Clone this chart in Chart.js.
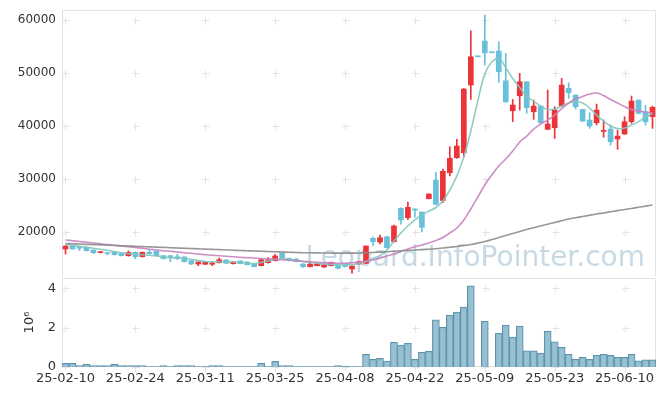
<!DOCTYPE html>
<html>
<head>
<meta charset="utf-8">
<script src="https://cdn.jsdelivr.net/npm/chart.js@4.4.1/dist/chart.umd.min.js"></script>
<style>
  body { margin: 0; background: #fff; }
  #wrap { position: relative; width: 665px; height: 396px; }
  #price { position: absolute; left: 0; top: 0; }
  #vol { position: absolute; left: 0; top: 278px; }
</style>
</head>
<body>
<div id="wrap">
  <canvas id="price" width="665" height="278"></canvas>
  <canvas id="vol" width="665" height="118"></canvas>
</div>
<script>
// trading days (YY-MM-DD)
const dates = [
  '25-02-10','25-02-11','25-02-12','25-02-13','25-02-14','25-02-17','25-02-18','25-02-19','25-02-20','25-02-21',
  '25-02-24','25-02-25','25-02-26','25-02-27','25-02-28','25-03-04','25-03-05','25-03-06','25-03-07','25-03-10',
  '25-03-11','25-03-12','25-03-13','25-03-14','25-03-17','25-03-18','25-03-19','25-03-20','25-03-21','25-03-24',
  '25-03-25','25-03-26','25-03-27','25-03-28','25-03-31','25-04-01','25-04-02','25-04-03','25-04-04','25-04-07',
  '25-04-08','25-04-09','25-04-10','25-04-11','25-04-14','25-04-15','25-04-16','25-04-17','25-04-18','25-04-21',
  '25-04-22','25-04-23','25-04-24','25-04-25','25-04-28','25-04-29','25-04-30','25-05-02','25-05-07','25-05-08',
  '25-05-09','25-05-12','25-05-13','25-05-14','25-05-15','25-05-16','25-05-19','25-05-20','25-05-21','25-05-22',
  '25-05-23','25-05-26','25-05-27','25-05-28','25-05-29','25-05-30','25-06-02','25-06-04','25-06-05','25-06-09',
  '25-06-10','25-06-11','25-06-12','25-06-13','25-06-16'
];

const opens = [
  16850,17480,17230,17180,16670,16160,16050,16230,16050,15590,
  16230,15400,16230,16420,15590,15590,15400,15350,14650,14030,
  13980,13980,14280,14790,14090,14600,14410,14030,13710,14280,
  14650,16100,15100,14970,14030,13520,13710,13460,13710,13840,
  13800,13090,14030,14160,18870,18170,19170,18230,24520,22750,
  24390,23820,26330,29850,26000,31220,34050,34990,47740,53070,
  56020,53820,54140,48550,42900,45720,48360,42710,43780,39400,
  39700,43780,47120,45850,43160,41150,40640,39020,39450,37570,
  38510,40830,44910,42710,41770
];
const highs = [
  17500,17600,17300,17250,16700,16400,16150,16300,16100,16480,
  16300,16300,16610,16500,15650,15650,15860,15400,14700,14450,
  14400,14460,15160,14850,14450,14650,14450,14100,15100,15220,
  15860,16150,15150,15050,14100,14350,14100,13950,14400,13900,
  13900,13700,14500,17450,19170,19490,19250,21350,24600,25700,
  24450,23820,27250,31300,31900,36120,37510,47100,57960,53070,
  60920,53820,55890,53710,45040,49940,48400,44910,43850,46800,
  43650,49000,48170,45900,43200,42520,44160,41150,40200,39260,
  41770,45670,44950,43910,43780
];
const lows = [
  15900,16800,16540,16450,15970,16100,15750,15700,15550,15500,
  15030,15350,15900,15550,14950,14460,14850,14400,13900,13710,
  13900,13710,14200,14100,14000,14050,13850,13450,13650,14200,
  14600,15100,14600,14400,13400,13500,13650,13400,13650,13100,
  13450,12280,14000,14100,17480,17800,17000,18150,21510,22400,
  22830,20060,26300,25200,25600,30600,33900,34240,45040,53070,
  51500,53820,48250,44500,40830,43030,42410,41280,40550,39300,
  37700,43700,45230,43220,40900,39580,40210,37900,36440,35630,
  38450,40530,42350,40210,39580
];
const closes = [
  17420,16860,16990,16540,16160,16350,16000,15780,15590,16230,
  15400,16230,15970,15590,15030,15300,15030,14460,14030,14410,
  14350,14220,14840,14160,14410,14090,13900,13520,14840,14840,
  15540,15160,14650,14460,13520,13980,14030,13900,14350,13220,
  13550,13650,14460,17420,18230,18980,17100,21190,22320,24710,
  24200,20940,27210,25270,31500,33930,36250,46980,53070,53070,
  53820,53820,50240,44590,43970,48360,43460,43780,40640,40390,
  43030,47740,46290,43650,40960,40020,43030,39130,37060,38130,
  40830,44720,42410,40830,43540
];

// moving averages as drawn (short, mid, long)
const maShort = [
  17700,17550,17360,17180,16990,16800,16610,16390,16160,16010,
  15880,15780,15670,15540,15350,15220,15160,15100,14880,14690,
  14500,14460,14460,14460,14410,14350,14220,14130,14310,14600,
  14880,15030,14920,14690,14500,14310,14160,14030,13940,13940,
  13940,13900,14120,14500,15070,15630,16670,18360,19870,21190,
  22320,23260,24010,24670,25890,27970,30600,34180,39080,44720,
  49810,52070,52730,51030,48960,47270,45570,44720,43780,43120,
  43220,43780,44350,44630,44350,43410,42090,40960,40020,39550,
  39640,40210,40860,41710,42370
];
const maMid = [
  18550,18400,18270,18120,17990,17830,17700,17550,17420,17270,
  17140,16990,16820,16670,16540,16420,16290,16160,16050,15910,
  15780,15670,15570,15480,15390,15290,15220,15160,15060,14970,
  14920,14840,14750,14650,14540,14450,14350,14280,14220,14160,
  14180,14260,14370,14540,14780,15100,15540,15910,16380,16860,
  17270,17610,17990,18460,19020,19870,20810,22320,24390,26650,
  28910,30790,32490,33800,35310,37000,38130,39450,40390,41150,
  42090,43310,44350,45100,45570,46040,46230,45760,45010,44350,
  43690,43120,42840,42650,42460
];
const maLong = [
  17890,17840,17790,17730,17680,17630,17580,17520,17470,17420,
  17370,17310,17260,17210,17160,17100,17050,17000,16950,16890,
  16840,16790,16740,16680,16630,16580,16530,16480,16440,16380,
  16330,16290,16230,16200,16160,16140,16120,16100,16080,16080,
  16080,16080,16100,16140,16200,16270,16350,16420,16520,16590,
  16670,16740,16820,16910,17040,17180,17330,17500,17700,17970,
  18270,18630,19020,19400,19770,20150,20530,20870,21190,21530,
  21850,22180,22500,22750,22980,23220,23450,23650,23860,24090,
  24290,24500,24710,24930,25140
];

const volumes = [
  190000,190000,70000,140000,70000,70000,70000,140000,70000,70000,
  70000,70000,20000,20000,70000,20000,70000,70000,70000,20000,
  20000,70000,70000,20000,20000,20000,20000,20000,190000,20000,
  290000,70000,70000,20000,20000,20000,20000,20000,20000,70000,
  30000,20000,20000,650000,390000,440000,300000,1260000,1110000,1210000,
  390000,750000,800000,2400000,2020000,2640000,2790000,3050000,4130000,null,
  2330000,null,1720000,2130000,1520000,2080000,820000,820000,710000,1820000,
  1280000,1000000,650000,390000,490000,390000,590000,650000,590000,490000,
  490000,650000,310000,360000,360000
];

const priceTicks = [20000, 30000, 40000, 50000, 60000];
const volTicks = [0, 2000000, 4000000];

const UP = '#ec3338';
const DOWN = '#69c0da';
const FONT = 'DejaVu Sans';

const candleColors = closes.map((c, i) => c > opens[i] ? UP : DOWN);

// light "+" marks where grid lines would cross
const crosses = {
  id: 'crosses',
  beforeDatasetsDraw(chart) {
    const { ctx, scales: { x, y } } = chart;
    ctx.save();
    ctx.strokeStyle = '#e3e3e3';
    ctx.lineWidth = 1;
    ctx.beginPath();
    dates.forEach((d, i) => {
      if (i % 10) return;
      const px = Math.round(x.getPixelForValue(i)) + 0.5;
      y.ticks.forEach(t => {
        const py = Math.round(y.getPixelForValue(t.value)) + 0.5;
        ctx.moveTo(px - 3, py); ctx.lineTo(px + 4, py);
        ctx.moveTo(px, py - 3); ctx.lineTo(px, py + 4);
      });
    });
    ctx.stroke();
    ctx.restore();
  }
};

const frame = {
  id: 'frame',
  beforeDatasetsDraw(chart, args, opts) {
    const { ctx, chartArea: a } = chart;
    const l = Math.round(a.left) + 0.5, t = Math.round(a.top) + 0.5;
    const r = Math.round(a.right) - 0.5, b = Math.round(a.bottom) - 0.5;
    ctx.save();
    ctx.strokeStyle = '#e2e2e2';
    ctx.lineWidth = 1;
    ctx.beginPath();
    if (opts.bottom) { ctx.moveTo(l, b); ctx.lineTo(r, b); }
    ctx.moveTo(l, b); ctx.lineTo(l, t); ctx.lineTo(r, t); ctx.lineTo(r, b);
    ctx.stroke();
    ctx.restore();
  }
};

const watermark = {
  id: 'watermark',
  beforeDatasetsDraw(chart) {
    const { ctx, chartArea: a } = chart;
    ctx.save();
    ctx.font = '28px "' + FONT + '"';
    ctx.fillStyle = 'rgba(160,192,210,0.6)';
    ctx.textAlign = 'right';
    ctx.textBaseline = 'alphabetic';
    ctx.fillText('Leopard.InfoPointer.com', a.right - 11, a.bottom - 11);
    ctx.restore();
  }
};

// keep the plot box where the reference has it (no label overhang padding)
const noOverhang = s => { s.paddingTop = 0; s.paddingBottom = 0; s.width = 62; };

const lineDs = (data, color) => ({
  type: 'line',
  data: data,
  borderColor: color,
  borderWidth: 1.6,
  pointRadius: 0,
  tension: 0.4,
  order: 0
});

new Chart(document.getElementById('price'), {
  type: 'bar',
  data: {
    labels: dates,
    datasets: [
      lineDs(maLong, 'rgba(140,140,140,0.9)'),
      lineDs(maMid, 'rgba(200,130,190,0.9)'),
      lineDs(maShort, 'rgba(130,200,190,0.9)'),
      {
        data: dates.map((d, i) => [opens[i], closes[i]]),
        backgroundColor: candleColors,
        barThickness: 5,
        minBarLength: 1,
        grouped: false,
        order: 1
      },
      {
        data: dates.map((d, i) => [lows[i], highs[i]]),
        backgroundColor: candleColors,
        barThickness: 1,
        grouped: false,
        order: 2
      }
    ]
  },
  options: {
    responsive: false,
    animation: false,
    layout: { padding: { top: 10, right: 9, bottom: 1, left: 0 } },
    scales: {
      x: {
        offset: true,
        grid: { display: false },
        border: { display: false },
        ticks: { display: false },
        afterFit: s => { s.height = 0; }
      },
      y: {
        min: 11580,
        max: 61880,
        grid: { display: false, drawTicks: false },
        border: { display: false },
        ticks: { padding: 6, color: '#333', font: { family: FONT, size: 12 }, callback: v => String(v) },
        afterBuildTicks: s => { s.ticks = priceTicks.map(v => ({ value: v })); },
        afterFit: noOverhang
      }
    },
    plugins: {
      legend: { display: false },
      tooltip: { enabled: false },
      frame: { bottom: false }
    }
  },
  plugins: [frame, crosses, watermark]
});

new Chart(document.getElementById('vol'), {
  type: 'bar',
  data: {
    labels: dates,
    datasets: [{
      data: volumes,
      backgroundColor: 'rgba(140,186,205,0.9)',
      borderColor: '#5d91aa',
      borderWidth: 1,
      barPercentage: 1,
      categoryPercentage: 1
    }]
  },
  options: {
    responsive: false,
    animation: false,
    layout: { padding: { top: 0, right: 9, bottom: 0, left: 0 } },
    scales: {
      x: {
        offset: true,
        grid: { display: false, drawTicks: false },
        border: { display: false },
        ticks: {
          autoSkip: false,
          maxRotation: 0,
          padding: 4,
          color: '#333',
          font: { family: FONT, size: 13 },
          callback: (v, i) => i % 10 === 0 ? dates[i] : ''
        },
        afterFit: s => { s.height = 29; }
      },
      y: {
        min: 0,
        max: 4530000,
        grid: { display: false, drawTicks: false },
        border: { display: false },
        ticks: {
          padding: 6, color: '#333',
          font: { family: FONT, size: 13 },
          callback: v => String(v / 1000000)
        },
        afterBuildTicks: s => { s.ticks = volTicks.map(v => ({ value: v })); },
        title: {
          display: true, text: '10\u2076', color: '#333',
          font: { family: FONT, size: 13 },
          padding: { top: 22, bottom: 0 }
        },
        afterFit: noOverhang
      }
    },
    plugins: {
      legend: { display: false },
      tooltip: { enabled: false },
      frame: { bottom: true }
    }
  },
  plugins: [frame, crosses]
});
</script>
</body>
</html>
